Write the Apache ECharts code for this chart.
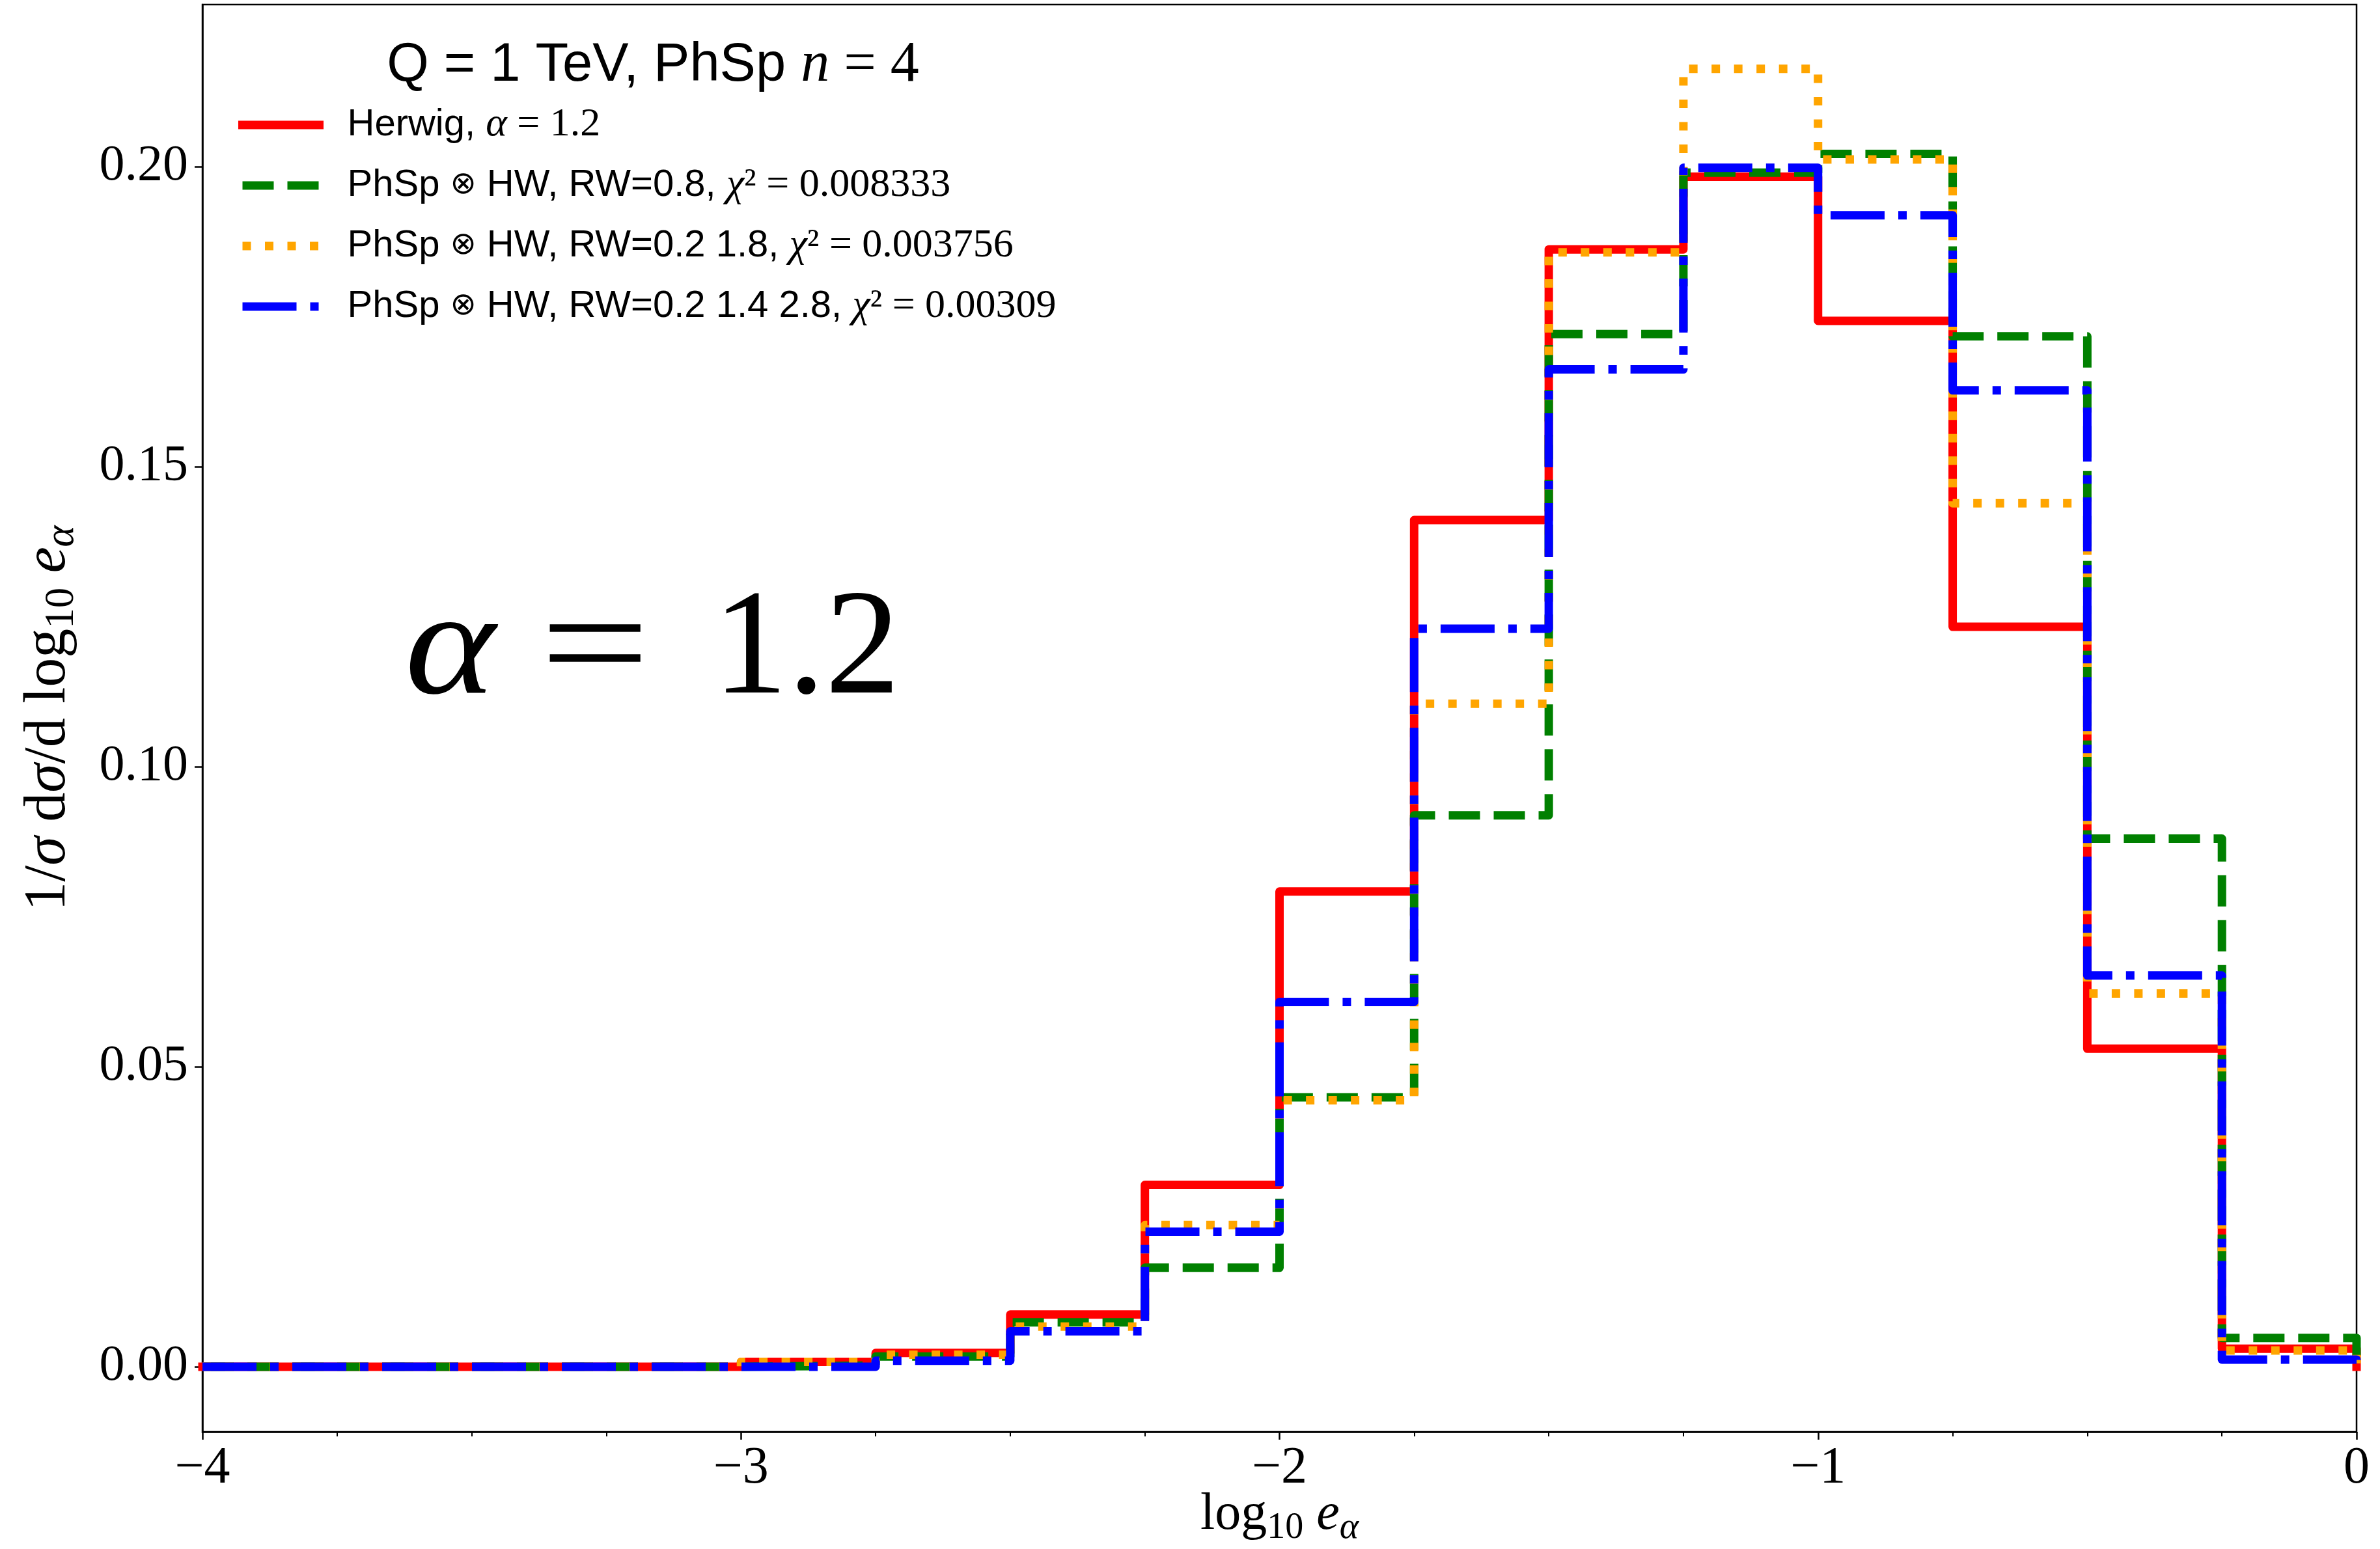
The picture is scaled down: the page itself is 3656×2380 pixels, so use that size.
<!DOCTYPE html>
<html><head><meta charset="utf-8">
<script src="https://cdn.jsdelivr.net/npm/echarts@6/dist/echarts.min.js"></script>
<style>html,body{margin:0;padding:0;background:#fff}#c{width:3656px;height:2380px}</style>
</head><body><div id="c"></div>
<script>
// bin edges of log10 e_alpha
const binEdges = [-4,-3.75,-3.5,-3.25,-3,-2.75,-2.5,-2.25,-2,-1.75,-1.5,-1.25,-1,-0.75,-0.5,-0.25,0];
// bin contents (one per bin)
const herwig   = [0,0,0,0,0.0008,0.0023,0.0087,0.0303,0.0792,0.1411,0.1862,0.1983,0.1743,0.1233,0.0530,0.0030];
const rw08     = [0,0,0,0,0.0002,0.0017,0.0074,0.0165,0.0449,0.0919,0.1721,0.1990,0.2021,0.1717,0.0880,0.0048];
const rw0218   = [0,0,0,0,0.0008,0.0020,0.0067,0.0236,0.0444,0.1105,0.1857,0.2163,0.2012,0.1439,0.0622,0.0027];
const rw021428 = [0,0,0,0,0.0000,0.0010,0.0059,0.0225,0.0608,0.1230,0.1662,0.1998,0.1919,0.1627,0.0652,0.0012];
const yTicks = [0,0.05,0.10,0.15,0.20];
const xTicks = [-4,-3,-2,-1,0];
const seriesNames = ['Herwig','RW=0.8','RW=0.2 1.8','RW=0.2 1.4 2.8'];
const chi2 = {'RW=0.8':'0.008333','RW=0.2 1.8':'0.003756','RW=0.2 1.4 2.8':'0.00309'};

function stepPath(vals){
  const pts = [[binEdges[0],0]];
  for(let i=0;i<vals.length;i++){ pts.push([binEdges[i],vals[i]]); pts.push([binEdges[i+1],vals[i]]); }
  pts.push([binEdges[binEdges.length-1],0]);
  return pts;
}

const SERIF='Liberation Serif', SANS='Liberation Sans';
const mathRich = (fs, lh) => ({
  r:{fontFamily:SERIF,fontSize:fs,lineHeight:lh,color:'#000'},
  i:{fontFamily:SERIF,fontStyle:'italic',fontSize:fs,lineHeight:lh,color:'#000'},
  sub:{fontFamily:SERIF,fontSize:Math.round(fs*0.7),lineHeight:Math.round(fs*0.7),verticalAlign:'bottom',color:'#000'},
  subi:{fontFamily:SERIF,fontStyle:'italic',fontSize:Math.round(fs*0.7),lineHeight:Math.round(fs*0.7),verticalAlign:'bottom',color:'#000'}
});

const legendRich = Object.assign(mathRich(62,70), {
  s:{fontFamily:SANS,fontSize:58,lineHeight:70,color:'#000'},
  o:{fontFamily:'DejaVu Sans',fontSize:48,lineHeight:70,color:'#000'}
});

function legendLabel(name){
  if(name==='Herwig') return '{s|Herwig, }{i|α}{r| = 1.2}';
  return '{s|PhSp }{o|⊗}{s| HW, '+name+', }{i|χ}{r|² = '+chi2[name]+'}';
}

const styles = [
  {color:'#ff0000', type:'solid', cap:'square'},
  {color:'#008000', type:[48,21], cap:'butt'},
  {color:'#ffa500', type:[13,21.5], cap:'butt'},
  {color:'#0000ff', type:[83,21,13,21], cap:'butt'}
];
const datasets = [herwig, rw08, rw0218, rw021428];

const chart = echarts.init(document.getElementById('c'), null, {renderer:'canvas'});
chart.setOption({
  animation:false,
  backgroundColor:'#fff',
  grid:{left:311,right:36,top:7,bottom:180,show:true,borderColor:'#000',borderWidth:2.5,backgroundColor:'transparent',containLabel:false,outerBoundsMode:'none'},
  xAxis:{
    type:'value',min:-4,max:0,interval:1,
    axisLine:{onZero:false,lineStyle:{color:'#000',width:2.5}},
    axisTick:{show:true,inside:false,length:12,lineStyle:{color:'#000',width:2.5}},
    minorTick:{show:true,splitNumber:4,length:7,lineStyle:{color:'#000',width:2}},
    splitLine:{show:false},
    axisLabel:{margin:17,color:'#000',fontFamily:SERIF,fontSize:80,
      formatter:v=> v<0 ? '\u2212'+Math.abs(v) : String(v)},
    name:'{r|log}{sub|10}{r| }{i|e}{subi|α}',
    nameLocation:'middle',nameGap:80,nameMoveOverlap:false,
    nameTextStyle:{rich:mathRich(80,96)}
  },
  yAxis:{
    type:'value',min:-0.01085,max:0.2270,
    axisLine:{onZero:false,lineStyle:{color:'#000',width:2.5}},
    axisTick:{show:true,inside:false,length:12,customValues:yTicks,lineStyle:{color:'#000',width:2.5}},
    splitLine:{show:false},
    axisLabel:{margin:22,color:'#000',fontFamily:SERIF,fontSize:78,customValues:yTicks,
      formatter:v=>Number(v).toFixed(2)},
    name:'{r|1/}{i|σ}{r| d}{i|σ}{r|/d log}{sub|10}{r| }{i|e}{subi|α}',
    nameLocation:'middle',nameRotate:90,nameGap:184,nameMoveOverlap:false,
    nameTextStyle:{rich:mathRich(90,104)}
  },
  legend:{
    show:true,orient:'vertical',left:366,top:161,padding:0,
    itemWidth:118,itemHeight:26,itemGap:31,
    selectedMode:false,
    data:seriesNames,
    lineStyle:{width:13},
    itemStyle:{opacity:0},
    formatter:legendLabel,
    textStyle:{padding:[0,0,0,38],rich:legendRich}
  },
  graphic:[
    {type:'text',x:1003,y:101,style:{
      text:'{s|Q = 1 TeV, PhSp }{i|n}{r| = 4}',align:'center',verticalAlign:'middle',
      rich:{s:{fontFamily:SANS,fontSize:83,lineHeight:100,fill:'#000'},
            i:{fontFamily:SERIF,fontStyle:'italic',fontSize:88,lineHeight:100,fill:'#000'},
            r:{fontFamily:SERIF,fontSize:88,lineHeight:100,fill:'#000'}}}},
    {type:'text',x:622,y:1004,scaleX:1.15,style:{text:'α',fontFamily:SERIF,fontStyle:'italic',fontSize:230,fill:'#000',align:'left',verticalAlign:'middle'}},
    {type:'text',x:914,y:1004,scaleX:1.3,style:{text:'=',fontFamily:SERIF,fontSize:230,fill:'#000',align:'center',verticalAlign:'middle'}},
    {type:'text',x:1095,y:1004,style:{text:'1.2',fontFamily:SERIF,fontSize:230,fill:'#000',align:'left',verticalAlign:'middle'}}
  ],
  series: datasets.map((vals,k)=>({
    name:seriesNames[k],type:'line',symbol:'none',showSymbol:false,clip:true,
    data:stepPath(vals),
    lineStyle:{color:styles[k].color,width:13,type:styles[k].type,cap:styles[k].cap,join:'round'},
    itemStyle:{color:styles[k].color},
    emphasis:{disabled:true},
    z:2+k
  }))
});
</script></body></html>
